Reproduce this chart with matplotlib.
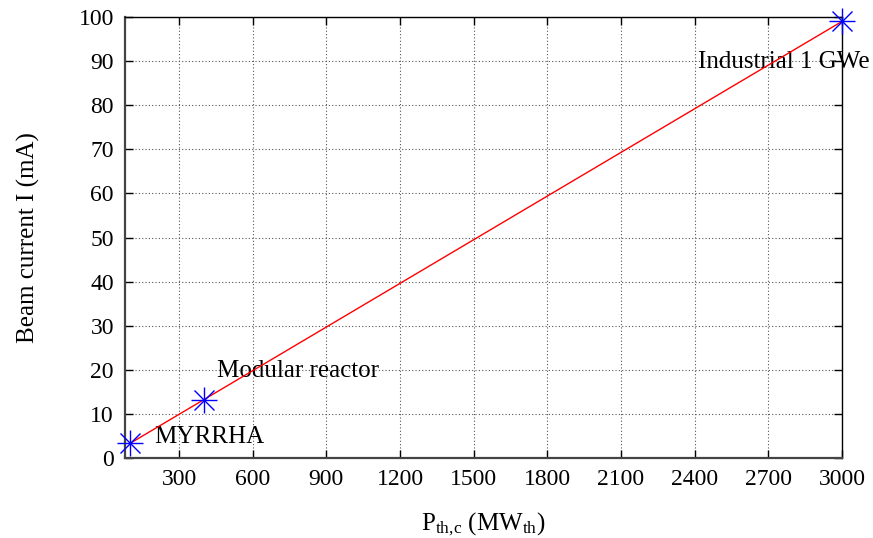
import matplotlib
matplotlib.use("Agg")
import matplotlib.pyplot as plt

# Beam current needed for each ADS design point
reactors = ["MYRRHA", "Modular reactor", "Industrial 1 GWe"]
power_th = [100, 400, 3000]      # MW_th
beam_current = [3.3, 13.2, 99.0]  # mA

x_ticks = [300, 600, 900, 1200, 1500, 1800, 2100, 2400, 2700, 3000]
y_ticks = [0, 10, 20, 30, 40, 50, 60, 70, 80, 90, 100]

plt.rcParams["font.family"] = ["Liberation Serif", "DejaVu Serif"]
plt.rcParams["mathtext.fontset"] = "custom"
plt.rcParams["mathtext.rm"] = "Liberation Serif"
plt.rcParams["mathtext.it"] = "Liberation Serif:italic"

fig = plt.figure(figsize=(8.73, 5.38), dpi=100)
ax = fig.add_axes([0.1432, 0.1487, 0.8213, 0.8197])

ax.plot(power_th, beam_current, color="red", lw=1.0, zorder=3, clip_on=False)
# gnuplot-style asterisk: a plus laid over a cross
ax.plot(power_th, beam_current, ls="none", marker="+", ms=19, mew=1.0,
        color="blue", zorder=4, clip_on=False)
ax.plot(power_th, beam_current, ls="none", marker="x", ms=14, mew=1.0,
        color="blue", zorder=4, clip_on=False)

label_pos = [(200, 4.8), (455, 19.7), (2414, 89.8)]
for name, (lx, ly) in zip(reactors, label_pos):
    ax.text(lx, ly, name, fontsize=18, ha="left", va="center", zorder=2)

ax.set_xlim(80, 3000)
ax.set_ylim(0, 100)
ax.set_xticks(x_ticks)
ax.set_yticks(y_ticks)
ax.tick_params(direction="in", length=6, width=1.0, top=True, right=True,
               labelsize=17, pad=8)
ax.grid(True, color="#555555", ls=(0, (1, 2)), lw=0.8)

for side in ["left", "bottom"]:
    ax.spines[side].set_linewidth(1.6)
    ax.spines[side].set_color("#444444")
for side in ["top", "right"]:
    ax.spines[side].set_linewidth(1.0)

ax.set_xlabel(r"P$_{\mathrm{th{,}c}}$ (MW$_{\mathrm{th}}$)", fontsize=18,
              labelpad=15)
ax.set_ylabel("Beam current I (mA)", fontsize=18, labelpad=28)

fig.savefig("out.png", dpi=100)
